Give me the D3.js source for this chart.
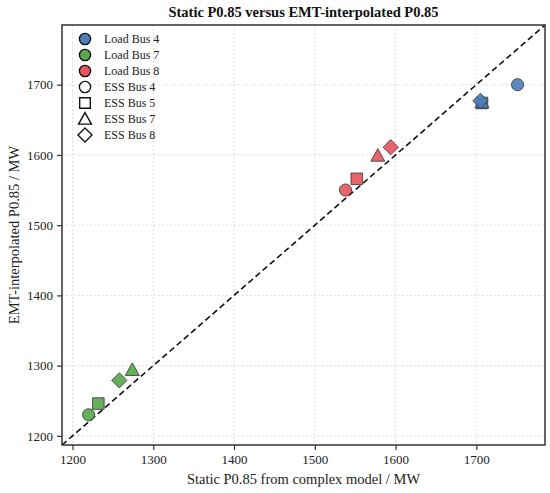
<!DOCTYPE html>
<html><head><meta charset="utf-8">
<script src="https://cdn.jsdelivr.net/npm/d3@7"></script>
<style>body{margin:0;background:#fff}svg{display:block}</style>
</head><body>
<script>
const loadBuses = ["Load Bus 4","Load Bus 7","Load Bus 8"];
const essBuses = ["ESS Bus 4","ESS Bus 5","ESS Bus 7","ESS Bus 8"];
const loadColors = ["#4f7fb8","#5aa84f","#e5585d"];
// static P0.85 (x) per load bus, ordered by ESS bus 4,5,7,8
const staticVals = [
  [1751, 1707, 1707, 1705],
  [1220, 1232, 1274, 1258],
  [1538, 1552, 1578, 1594]
];
const emtVals = [
  [1700, 1674, 1675, 1677],
  [1230, 1246, 1294, 1279],
  [1550, 1566, 1599, 1611]
];
const xTicks = [1200,1300,1400,1500,1600,1700];
const yTicks = [1200,1300,1400,1500,1600,1700];
const domain = [1187, 1785];

const W=550,H=493;
const m={l:62,r:5,t:25,b:48};
const svg=d3.select("body").append("svg").attr("width",W).attr("height",H);
const x=d3.scaleLinear().domain(domain).range([m.l,W-m.r]);
const y=d3.scaleLinear().domain(domain).range([H-m.b,m.t]);
const font="'Liberation Serif','Times New Roman',serif";

// grid
const g=svg.append("g");
g.selectAll(".gx").data(xTicks).join("line").attr("x1",d=>x(d)).attr("x2",d=>x(d)).attr("y1",m.t).attr("y2",H-m.b)
 .attr("stroke","#c8c8c8").attr("stroke-width",0.8).attr("stroke-dasharray","1.5,2.5");
g.selectAll(".gy").data(yTicks).join("line").attr("y1",d=>y(d)).attr("y2",d=>y(d)).attr("x1",m.l).attr("x2",W-m.r)
 .attr("stroke","#c8c8c8").attr("stroke-width",0.8).attr("stroke-dasharray","1.5,2.5");

// diagonal
svg.append("line").attr("x1",x(domain[0])).attr("y1",y(domain[0])).attr("x2",x(domain[1])).attr("y2",y(domain[1]))
 .attr("stroke","#111").attr("stroke-width",1.6).attr("stroke-dasharray","6,3.5");

// marker shapes (matplotlib-like): circle, square, triangle, diamond
function shapePath(j,s){
  if(j===0){return d3.symbol().type(d3.symbolCircle).size(Math.PI*s*s)();}
  if(j===1){const h=s*0.95;return `M${-h},${-h}L${h},${-h}L${h},${h}L${-h},${h}Z`;}
  if(j===2){const h=s*1.15;return `M0,${-h}L${h},${h*0.8}L${-h},${h*0.8}Z`;}
  const h=s*1.25;return `M0,${-h}L${h},0L0,${h}L${-h},0Z`;
}
const R=6.1;
const pts=[];
loadBuses.forEach((lb,i)=>essBuses.forEach((eb,j)=>pts.push({i,j,xv:staticVals[i][j],yv:emtVals[i][j]})));
pts.sort((a,b)=>a.j-b.j);
svg.append("g").selectAll("path").data(pts).join("path")
 .attr("d",d=>shapePath(d.j,R))
 .attr("transform",d=>`translate(${x(d.xv)},${y(d.yv)})`)
 .attr("fill",d=>loadColors[d.i]).attr("fill-opacity",0.92)
 .attr("stroke","#333").attr("stroke-width",0.8);

// frame
svg.append("rect").attr("x",m.l).attr("y",m.t).attr("width",W-m.r-m.l).attr("height",H-m.b-m.t)
 .attr("fill","none").attr("stroke","#333").attr("stroke-width",1.5);

// axes
const fmt=d3.format("d");
const xa=svg.append("g").attr("transform",`translate(0,${H-m.b})`).call(d3.axisBottom(x).tickValues(xTicks).tickFormat(fmt).tickSize(5).tickPadding(5));
const ya=svg.append("g").attr("transform",`translate(${m.l},0)`).call(d3.axisLeft(y).tickValues(yTicks).tickFormat(fmt).tickSize(5).tickPadding(4));
[xa,ya].forEach(a=>{a.select(".domain").remove();a.selectAll("line").attr("stroke","#333").attr("stroke-width",1.2);
 a.selectAll("text").attr("font-family",font).attr("font-size",13).attr("fill","#222");});

// title and labels
svg.append("text").attr("x",(m.l+W-m.r)/2).attr("y",17).attr("text-anchor","middle")
 .attr("font-family",font).attr("font-weight","bold").attr("font-size",14.5).attr("fill","#111")
 .text("Static P0.85 versus EMT-interpolated P0.85");
svg.append("text").attr("x",(m.l+W-m.r)/2).attr("y",484).attr("text-anchor","middle")
 .attr("font-family",font).attr("font-size",14.5).attr("fill","#222").text("Static P0.85 from complex model / MW");
svg.append("text").attr("transform",`translate(19,${(m.t+H-m.b)/2}) rotate(-90)`).attr("text-anchor","middle")
 .attr("font-family",font).attr("font-size",14.5).attr("fill","#222").text("EMT-interpolated P0.85 / MW");

// legend
const leg=[];
loadBuses.forEach((lb,i)=>leg.push({label:lb,shape:0,fill:loadColors[i]}));
essBuses.forEach((eb,j)=>leg.push({label:eb,shape:j,fill:"#fff"}));
const lg=svg.append("g");
leg.forEach((d,k)=>{
  const yy=39+k*16;
  lg.append("path").attr("d",shapePath(d.shape,5.6))
   .attr("transform",`translate(85,${yy})`).attr("fill",d.fill).attr("stroke","#111").attr("stroke-width",1.4);
  lg.append("text").attr("x",104).attr("y",yy+4).attr("font-family",font).attr("font-size",12).attr("fill","#222").text(d.label);
});
</script>
</body></html>
